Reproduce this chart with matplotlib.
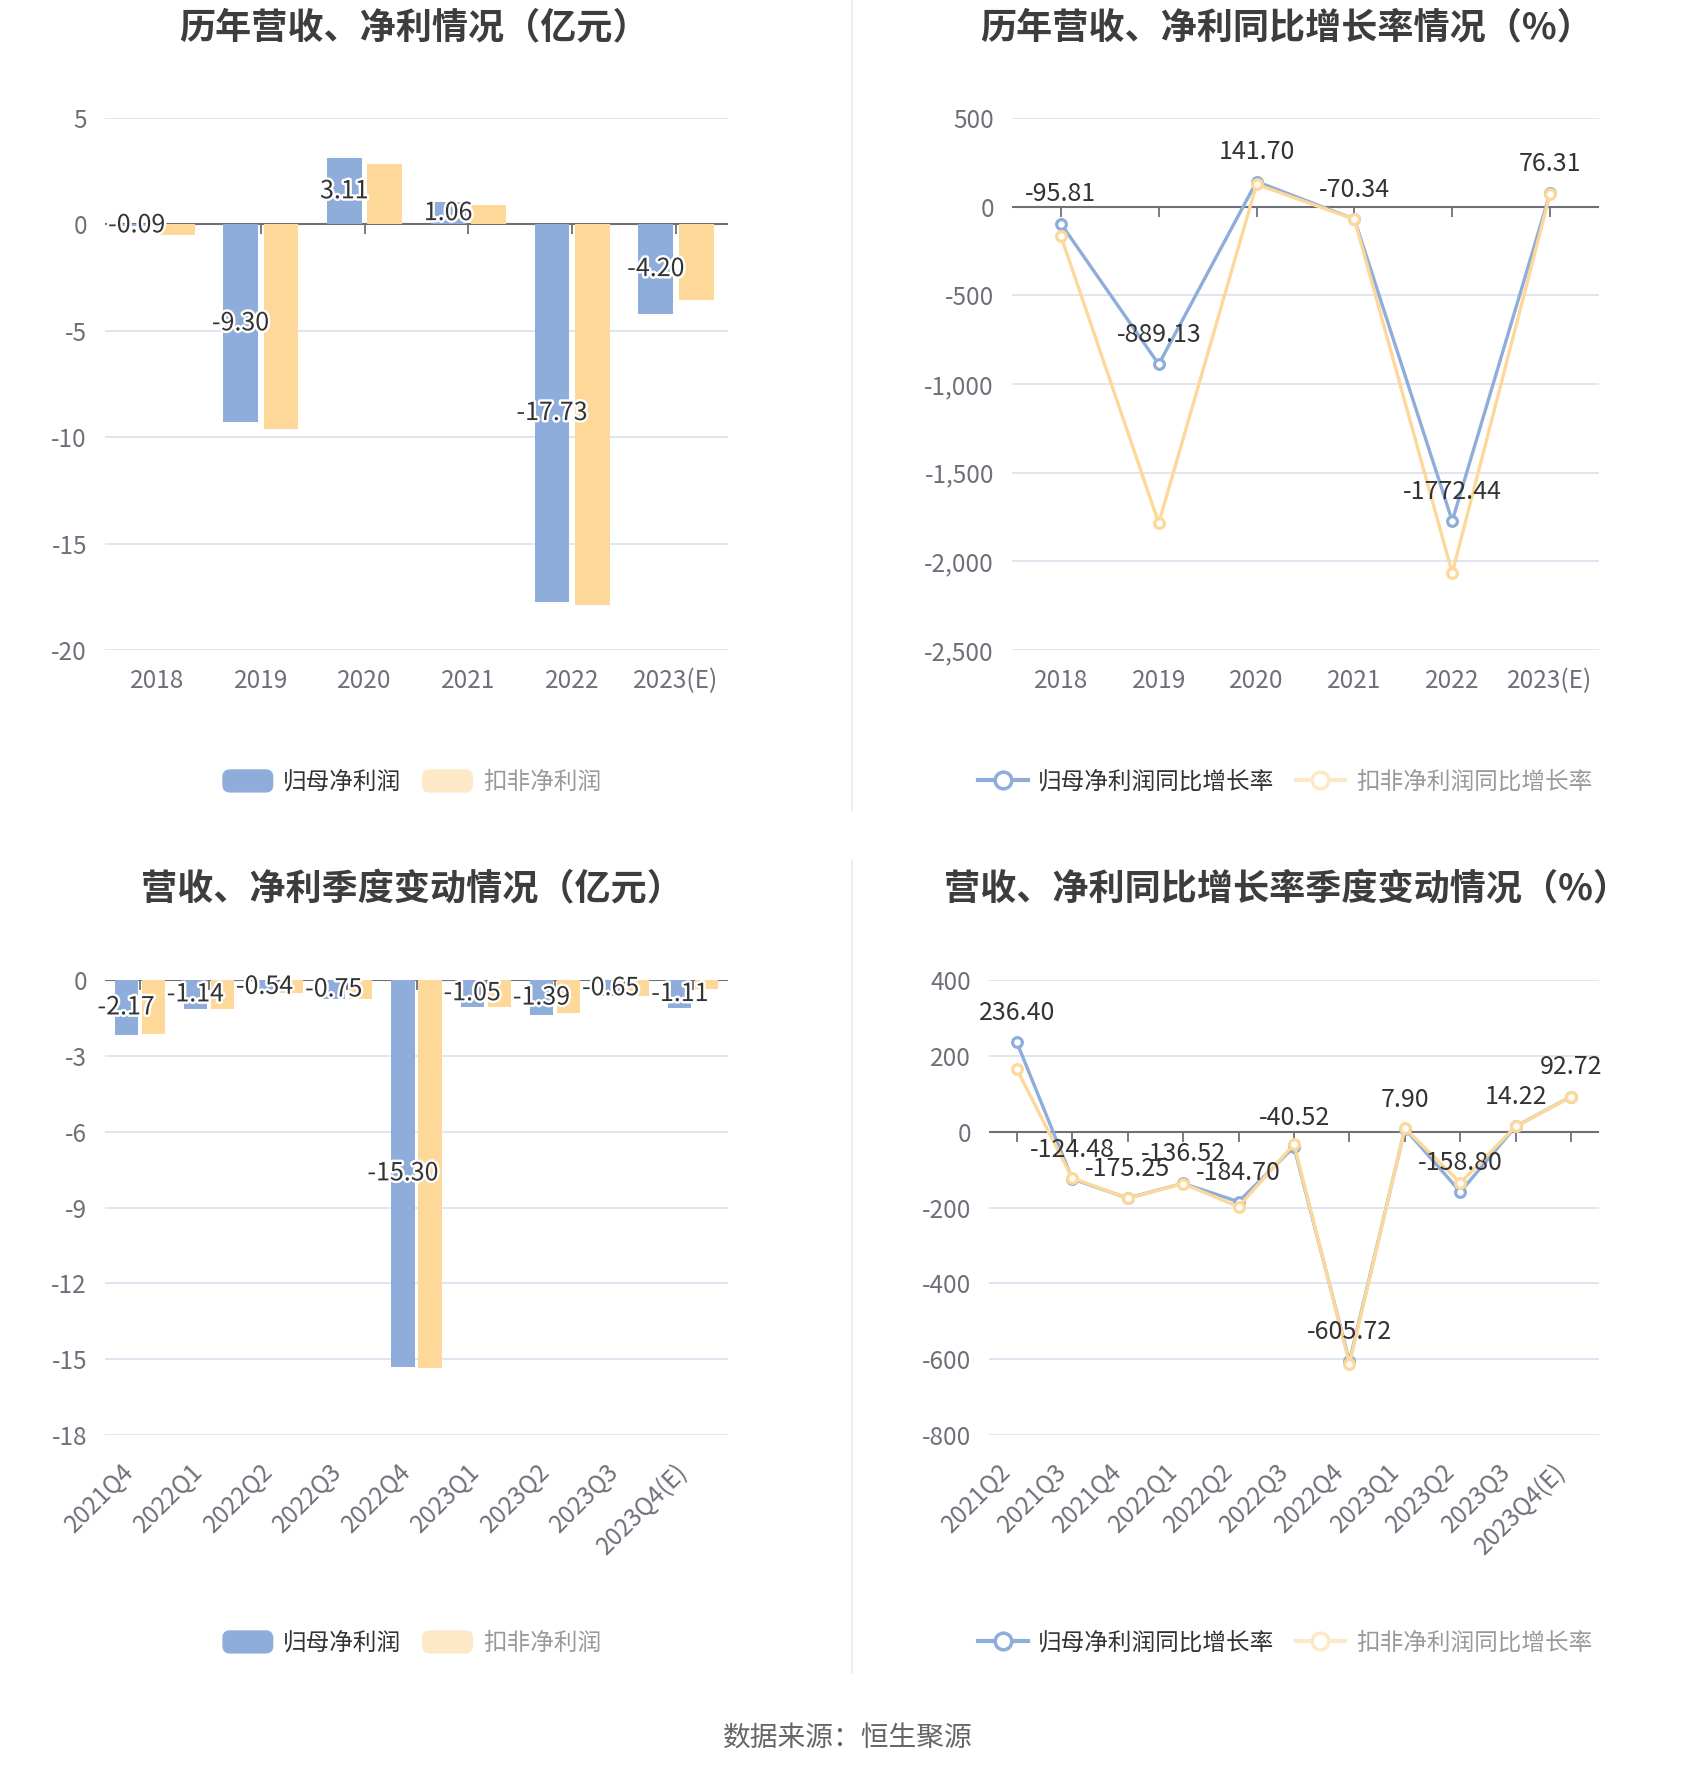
import matplotlib
matplotlib.use("Agg")
import matplotlib.pyplot as plt
import matplotlib.patheffects as pe
import numpy as np
from matplotlib.lines import Line2D
from matplotlib.patches import Patch, FancyBboxPatch
from matplotlib.legend_handler import HandlerPatch
from matplotlib.ticker import FuncFormatter

plt.rcParams["font.family"] = ["Noto Sans CJK SC", "DejaVu Sans"]
plt.rcParams["axes.unicode_minus"] = False

# ---- data ----
years = ["2018", "2019", "2020", "2021", "2022", "2023(E)"]
annual_parent = [-0.09, -9.30, 3.11, 1.06, -17.73, -4.20]
annual_deducted = [-0.50, -9.60, 2.85, 0.91, -17.90, -3.54]
annual_parent_yoy = [-95.81, -889.13, 141.70, -70.34, -1772.44, 76.31]
annual_deducted_yoy = [-166, -1785, 126, -71, -2066, 72]

quarters = ["2021Q4", "2022Q1", "2022Q2", "2022Q3", "2022Q4",
            "2023Q1", "2023Q2", "2023Q3", "2023Q4(E)"]
quarter_parent = [-2.17, -1.14, -0.54, -0.75, -15.30, -1.05, -1.39, -0.65, -1.11]
quarter_deducted = [-2.15, -1.15, -0.52, -0.76, -15.35, -1.07, -1.31, -0.63, -0.37]

yoy_quarters = ["2021Q2", "2021Q3", "2021Q4", "2022Q1", "2022Q2", "2022Q3",
                "2022Q4", "2023Q1", "2023Q2", "2023Q3", "2023Q4(E)"]
quarter_parent_yoy = [236.40, -124.48, -175.25, -136.52, -184.70, -40.52,
                      -605.72, 7.90, -158.80, 14.22, 92.72]
quarter_deducted_yoy = [165, -122, -176, -137, -198, -33,
                        -612, 9, -135, 14, 92]

parent_name = "归母净利润"
deducted_name = "扣非净利润"
parent_yoy_name = "归母净利润同比增长率"
deducted_yoy_name = "扣非净利润同比增长率"

# ---- styles ----
BLUE = "#8eadda"
YELLOW = "#fdd899"
YELLOW_LIGHT = "#fde9c7"
AXIS = "#6e7079"
GRID = "#e0e6f1"
LABEL = "#333333"
TITLE = "#3d3d3d"
FS = 17.5
LFS = 18

W, H = 1700, 1782
fig = plt.figure(figsize=(W / 100, H / 100), dpi=100)


def axes_px(left, top, right, bottom):
    return fig.add_axes([left / W, 1 - bottom / H, (right - left) / W, (bottom - top) / H])


def style_axes(ax, categories, ylim, yticks, rotate=False, fmt=None):
    n = len(categories)
    for s in ax.spines.values():
        s.set_visible(False)
    ax.set_xlim(-0.5, n - 0.5)
    ax.set_ylim(*ylim)
    ax.set_yticks(yticks)
    if fmt:
        ax.yaxis.set_major_formatter(FuncFormatter(fmt))
    ax.yaxis.grid(True, color=GRID, lw=1.4)
    ax.set_axisbelow(True)
    ax.tick_params(axis="y", length=0, pad=13, labelsize=FS, labelcolor=AXIS)
    ax.set_xticks(np.arange(n))
    if rotate:
        ax.set_xticklabels(categories, rotation=45, ha="right", va="top",
                           rotation_mode="default")
        ax.tick_params(axis="x", length=0, pad=17, labelsize=FS, labelcolor=AXIS)
    else:
        ax.set_xticklabels(categories)
        ax.tick_params(axis="x", length=0, pad=13, labelsize=FS, labelcolor=AXIS)
    # zero axis line with ticks at the categories
    ax.axhline(0, color=AXIS, lw=1.5, zorder=2)
    ax.plot(np.arange(n), np.zeros(n), linestyle="none", marker=3,
            markersize=7, markeredgewidth=1.3, color=AXIS, zorder=2, clip_on=False)


outline = [pe.withStroke(linewidth=3.5, foreground="white")]


def bar_chart(ax, categories, parent, deducted, ylim, yticks):
    x = np.arange(len(categories))
    style_axes(ax, categories, ylim, yticks, rotate=len(categories) > 6)
    b1 = ax.bar(x - 0.195, parent, width=0.335, color=BLUE, zorder=3)
    ax.bar(x + 0.195, deducted, width=0.335, color=YELLOW, zorder=3)
    texts = ax.bar_label(b1, labels=[f"{v:.2f}" for v in parent], label_type="center",
                         fontsize=LFS, color=LABEL, zorder=6)
    for t in texts:
        t.set_path_effects(outline)
        t.set_clip_on(False)


def line_chart(ax, categories, parent, deducted, ylim, yticks, fmt=None):
    x = np.arange(len(categories))
    style_axes(ax, categories, ylim, yticks, rotate=len(categories) > 6, fmt=fmt)
    ax.plot(x, parent, color=BLUE, lw=2.4, marker="o", ms=7, mfc="white",
            mew=2.3, zorder=4, clip_on=False)
    ax.plot(x, deducted, color=YELLOW, lw=2.4, marker="o", ms=7, mfc="white",
            mew=2.3, zorder=5, clip_on=False)
    for xi, v in zip(x, parent):
        ax.annotate(f"{v:.2f}", (xi, v), xytext=(0, 21), textcoords="offset points",
                    ha="center", va="center", fontsize=LFS, color=LABEL, zorder=6,
                    annotation_clip=False)


def rounded_patch(legend, orig_handle, xdescent, ydescent, width, height, fontsize):
    return FancyBboxPatch((-xdescent, -ydescent), width, height,
                          boxstyle="round,pad=0,rounding_size=5", mutation_aspect=1)


def bar_legend(cx, cy):
    handles = [Patch(color=BLUE), Patch(color=YELLOW_LIGHT)]
    leg = fig.legend(handles, [parent_name, deducted_name], loc="center",
                     bbox_to_anchor=(cx / W, 1 - cy / H), ncol=2, frameon=False,
                     fontsize=17, handlelength=2.1, handleheight=1.05,
                     handletextpad=0.45, columnspacing=0.9,
                     handler_map={Patch: HandlerPatch(patch_func=rounded_patch)})
    leg.get_texts()[0].set_color(LABEL)
    leg.get_texts()[1].set_color("#9a9a9a")


def line_legend(cx, cy):
    handles = [Line2D([], [], color=BLUE, lw=3, marker="o", ms=12, mfc="white", mew=2.5),
               Line2D([], [], color=YELLOW_LIGHT, lw=3, marker="o", ms=12, mfc="white", mew=2.5)]
    leg = fig.legend(handles, [parent_yoy_name, deducted_yoy_name], loc="center",
                     bbox_to_anchor=(cx / W, 1 - cy / H), ncol=2, frameon=False,
                     fontsize=17, handlelength=2.1, handletextpad=0.45, columnspacing=0.9)
    leg.get_texts()[0].set_color(LABEL)
    leg.get_texts()[1].set_color("#9a9a9a")


ax1 = axes_px(105, 118, 728, 650)
bar_chart(ax1, years, annual_parent, annual_deducted, (-20, 5), np.arange(-20, 6, 5))

ax2 = axes_px(1012, 118, 1599, 650)
line_chart(ax2, years, annual_parent_yoy, annual_deducted_yoy, (-2500, 500),
           np.arange(-2500, 501, 500), fmt=lambda v, p: f"{v:,.0f}")

ax3 = axes_px(105, 980, 728, 1435)
bar_chart(ax3, quarters, quarter_parent, quarter_deducted, (-18, 0), np.arange(-18, 1, 3))

ax4 = axes_px(989, 980, 1599, 1435)
line_chart(ax4, yoy_quarters, quarter_parent_yoy, quarter_deducted_yoy, (-800, 400),
           np.arange(-800, 401, 200))

# titles
title_kw = dict(ha="center", va="center", fontsize=26, fontweight="black", color=TITLE)
fig.text(414 / W, 1 - 28 / H, "历年营收、净利情况（亿元）", **title_kw)
fig.text(1287 / W, 1 - 28 / H, "历年营收、净利同比增长率情况（%）", **title_kw)
fig.text(412 / W, 1 - 890 / H, "营收、净利季度变动情况（亿元）", **title_kw)
fig.text(1286 / W, 1 - 890 / H, "营收、净利同比增长率季度变动情况（%）", **title_kw)

bar_legend(412, 782)
line_legend(1285, 782)
bar_legend(412, 1643)
line_legend(1285, 1643)

# dividers
fig.add_artist(Line2D([852 / W, 852 / W], [1, 1 - 810 / H], color="#eeeeee", lw=1.5))
fig.add_artist(Line2D([852 / W, 852 / W], [1 - 861 / H, 1 - 1672 / H], color="#eeeeee", lw=1.5))

fig.text(848 / W, 1 - 1739 / H, "数据来源：恒生聚源", ha="center", va="center",
         fontsize=20, color="#666666")

fig.savefig("out.png", dpi=100, facecolor="white")
